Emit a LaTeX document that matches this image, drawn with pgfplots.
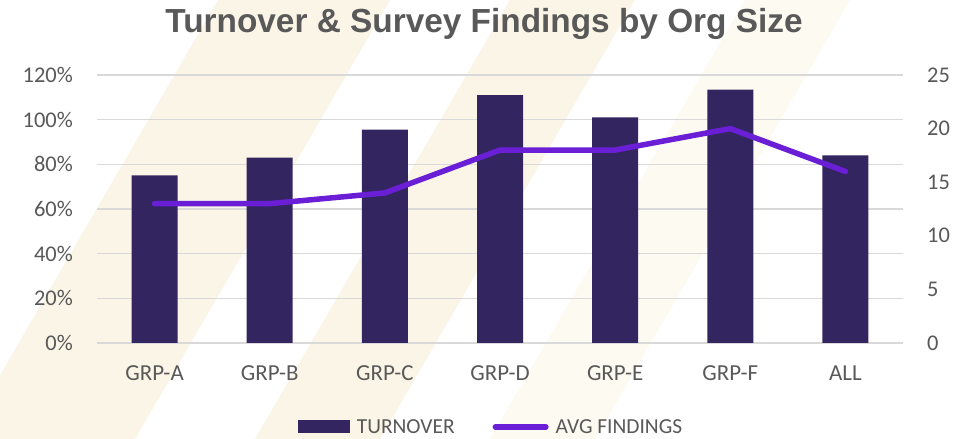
\documentclass[border=0pt]{standalone}
\usepackage{fontspec}
\setmainfont{Carlito}
\newfontfamily\titlefont{Liberation Sans}
\usepackage{pgfplots}
\pgfplotsset{compat=1.18}
\definecolor{barc}{HTML}{332660}
\definecolor{linec}{HTML}{6A1FD6}
\definecolor{txt}{HTML}{595959}
\definecolor{gridc}{HTML}{D9D9D9}
\definecolor{stripe}{HTML}{FBF5E7}
\definecolor{stripeb}{HTML}{FDFAF2}
\begin{document}
\begin{tikzpicture}
\useasboundingbox (0bp,0bp) rectangle (974bp,439bp);
\fill[white] (0bp,0bp) rectangle (974bp,439bp);
\begin{scope}
\clip (0bp,0bp) rectangle (974bp,439bp);
\fill[stripe] (-37bp,0bp) -- (135bp,0bp) -- (390bp,439bp) -- (218bp,439bp) -- cycle;
\fill[stripe] (255bp,0bp) -- (380bp,0bp) -- (635bp,439bp) -- (510bp,439bp) -- cycle;
\fill[stripeb] (490bp,0bp) -- (595bp,0bp) -- (850bp,439bp) -- (745bp,439bp) -- cycle;
\end{scope}
\begin{axis}[
  at={(97bp,96bp)}, anchor=south west,
  scale only axis, width=806bp, height=268bp,
  xmin=-0.5, xmax=6.5, ymin=0, ymax=120,
  axis line style={draw=none},
  major tick length=0pt,
  ymajorgrids, grid style={gridc, line width=1.3bp},
  xtick={0,1,2,3,4,5,6},
  xticklabels={GRP-A,GRP-B,GRP-C,GRP-D,GRP-E,GRP-F,ALL},
  ytick={0,20,40,60,80,100,120},
  yticklabels={0\%,20\%,40\%,60\%,80\%,100\%,120\%},
  xticklabel style={font=\fontsize{23}{23}\selectfont, text=txt, anchor=base, inner sep=0pt, yshift=-38bp},
  yticklabel style={font=\fontsize{22.5}{22.5}\selectfont, text=txt, anchor=east, inner sep=0pt, xshift=-24bp},
  legend style={at={(axis description cs:0.4876,-0.313)}, anchor=center, draw=none, fill=none,
    font=\fontsize{21.5}{21.5}\selectfont, text=txt, inner sep=0pt,
    nodes={inner sep=0pt},
    /tikz/every odd column/.append style={column sep=7bp},
    /tikz/every even column/.append style={column sep=38bp}},
  legend columns=2,
  legend cell align=left,
]
\addplot[ybar, bar width=46bp, fill=barc, draw=none,
  legend image code/.code={\fill[barc] (0bp,-6.5bp) rectangle (52bp,6.5bp);}]
  coordinates {(0,75) (1,83) (2,95.5) (3,111) (4,101) (5,113.5) (6,84)};
\addlegendentry{TURNOVER}
\addlegendimage{legend image code/.code={\draw[linec, line width=5.5bp, line cap=round] (2.75bp,0bp) -- (53.25bp,0bp);}}
\addlegendentry{AVG FINDINGS}
\end{axis}
\begin{axis}[
  at={(97bp,96bp)}, anchor=south west,
  scale only axis, width=806bp, height=268bp,
  xmin=-0.5, xmax=6.5, ymin=0, ymax=25,
  hide x axis,
  axis y line*=right,
  axis line style={draw=none},
  major tick length=0pt,
  ytick={0,5,10,15,20,25},
  yticklabels={0,5,10,15,20,25},
  yticklabel style={font=\fontsize{22.5}{22.5}\selectfont, text=txt, anchor=west, inner sep=0pt, xshift=24bp},
]
\addplot[linec, line width=5.5bp, line join=round, line cap=round]
  coordinates {(0,13) (1,13) (2,14) (3,18) (4,18) (5,20) (6,16)};
\end{axis}
\node[font=\titlefont\bfseries\fontsize{33.5}{33.5}\selectfont, text=txt, anchor=base] at (484bp,406bp) {Turnover \& Survey Findings by Org Size};
\end{tikzpicture}
\end{document}
